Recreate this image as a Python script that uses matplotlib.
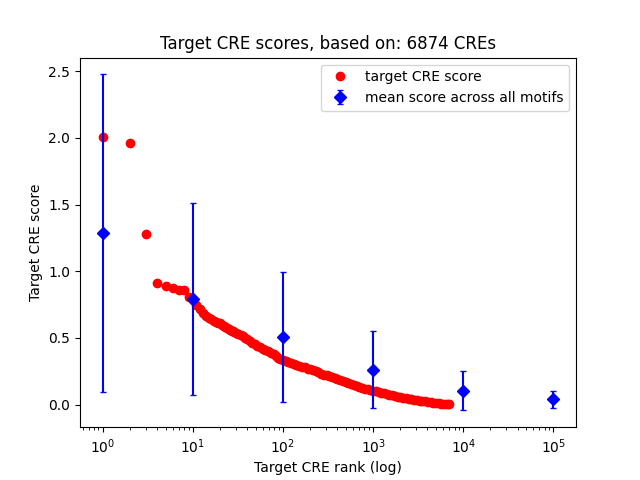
import matplotlib
matplotlib.use('Agg')
import matplotlib.pyplot as plt

# target CRE score by rank
cre_rank = [1, 2, 3, 4, 5, 6, 7, 8, 9, 10,
            11, 12, 13, 14, 15, 16, 17, 18, 19, 20,
            21, 22, 23, 24, 25, 26, 27, 28, 29, 30,
            32, 34, 36, 38, 40, 43, 46, 49, 52, 56,
            60, 64, 69, 74, 79, 84, 89, 94, 100, 107,
            115, 123, 132, 141, 152, 163, 175, 188, 200, 215,
            230, 247, 265, 285, 305, 327, 350, 376, 403, 432,
            464, 497, 533, 572, 613, 658, 705, 756, 811, 870,
            933, 1000, 1072, 1150, 1233, 1322, 1418, 1520, 1630, 1748,
            1875, 2010, 2156, 2312, 2479, 2658, 2851, 3057, 3278, 3515,
            3769, 4042, 4334, 4648, 4984, 5344, 5731, 6145, 6590, 6874]
cre_score = [2.005, 1.96, 1.278, 0.911, 0.893, 0.872, 0.86, 0.857, 0.81, 0.787,
             0.745, 0.715, 0.69, 0.665, 0.65, 0.64, 0.63, 0.62, 0.615, 0.61,
             0.60, 0.59, 0.58, 0.572, 0.565, 0.56, 0.555, 0.55, 0.543, 0.537,
             0.528, 0.52, 0.512, 0.502, 0.495, 0.48, 0.465, 0.452, 0.44, 0.43,
             0.42, 0.412, 0.402, 0.39, 0.378, 0.365, 0.352, 0.342, 0.334, 0.327,
             0.318, 0.31, 0.303, 0.297, 0.29, 0.285, 0.279, 0.271, 0.265, 0.257,
             0.25, 0.242, 0.233, 0.226, 0.219, 0.212, 0.205, 0.198, 0.19, 0.183,
             0.176, 0.168, 0.161, 0.154, 0.147, 0.14, 0.134, 0.128, 0.121, 0.115,
             0.109, 0.104, 0.099, 0.094, 0.089, 0.084, 0.079, 0.074, 0.069, 0.064,
             0.06, 0.056, 0.052, 0.048, 0.044, 0.04, 0.036, 0.033, 0.03, 0.027,
             0.024, 0.021, 0.018, 0.015, 0.013, 0.011, 0.008, 0.006, 0.004, 0.002]

# mean score across all motifs
motif_rank = [1, 10, 100, 1000, 10000, 100000]
motif_mean = [1.285, 0.792, 0.507, 0.262, 0.105, 0.04]
motif_err = [1.19, 0.722, 0.485, 0.29, 0.148, 0.063]

n_cres = 6874

fig, ax = plt.subplots(figsize=(6.4, 4.8), dpi=100)

ax.plot(cre_rank, cre_score, 'ro', label='target CRE score')
ax.errorbar(motif_rank, motif_mean, yerr=motif_err, fmt='bD', capsize=2,
            label='mean score across all motifs')

ax.set_xscale('log')
ax.set_xlabel('Target CRE rank (log)')
ax.set_ylabel('Target CRE score')
ax.set_title(f'Target CRE scores, based on: {n_cres} CREs')
ax.legend(loc='upper right')

plt.savefig('out.png', dpi=100)
plt.close()
